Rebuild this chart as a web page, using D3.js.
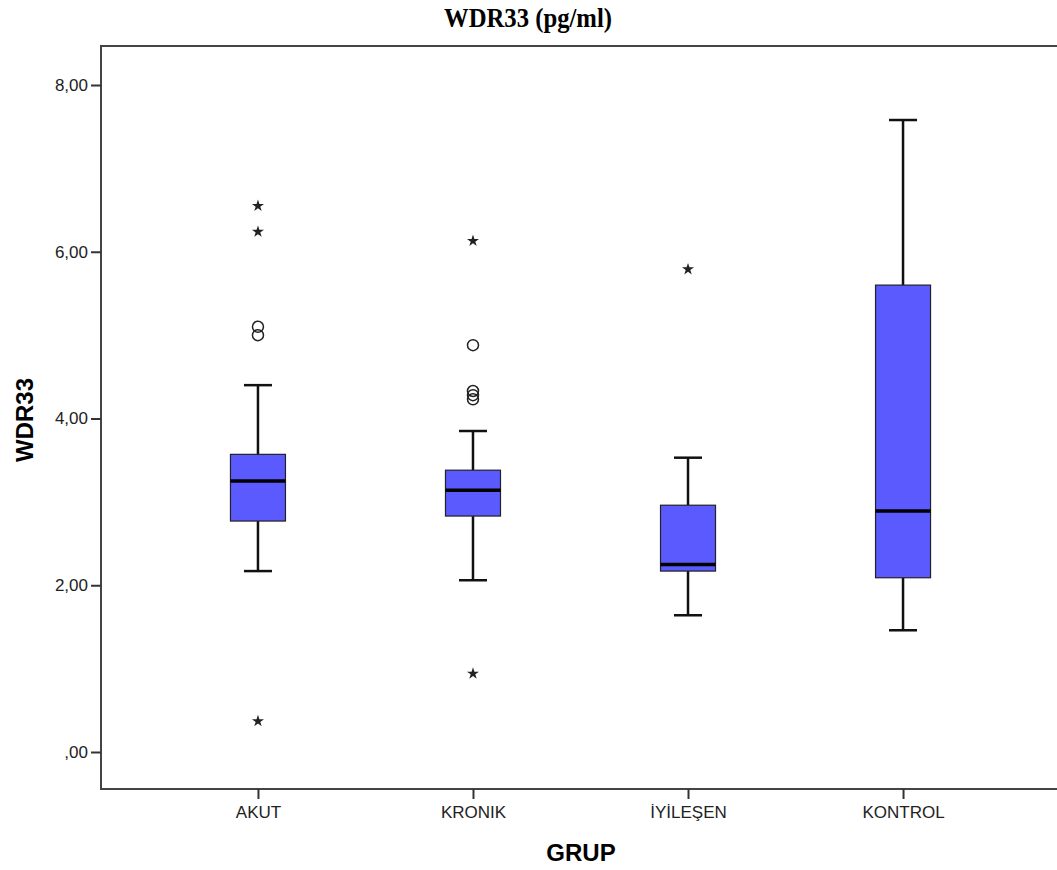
<!DOCTYPE html>
<html lang='en'>
<head>
<meta charset='utf-8'>
<title>WDR33</title>
<script src='https://cdn.jsdelivr.net/npm/d3@7'></script>
<style>
  body { margin: 0; background: #fff; }
</style>
</head>
<body>
<script>
// data
var groups = ['AKUT', 'KRONIK', 'İYİLEŞEN', 'KONTROL'];
var whiskerLow  = [2.17, 2.06, 1.64, 1.46];
var q1          = [2.77, 2.83, 2.17, 2.09];
var median      = [3.25, 3.14, 2.25, 2.89];
var q3          = [3.57, 3.38, 2.96, 5.60];
var whiskerHigh = [4.40, 3.85, 3.53, 7.58];
var outlierGroup = ['AKUT', 'AKUT', 'KRONIK', 'KRONIK', 'KRONIK', 'KRONIK'];
var outlierValue = [5.10, 5.00, 4.88, 4.33, 4.28, 4.23];
var extremeGroup = ['AKUT', 'AKUT', 'AKUT', 'KRONIK', 'KRONIK', 'İYİLEŞEN'];
var extremeValue = [6.55, 6.24, 0.37, 6.13, 0.94, 5.79];
var yTicks = [0, 2, 4, 6, 8];

var W = 1057, H = 870;
var plotLeft = 101, plotRight = 1060, plotTop = 46, plotBottom = 789;

var svg = d3.select('body').append('svg').attr('width', W).attr('height', H);

var x = d3.scalePoint().domain(groups).range([plotLeft, plotRight]).padding(0.73);
var y = d3.scaleLinear().domain([0, 8]).range([752, 85]);

var fmt = function(v) {
  var s = v.toFixed(2).replace('.', ',');
  return s.charAt(0) === '0' ? s.slice(1) : s;
};

// frame
svg.append('rect')
  .attr('x', plotLeft).attr('y', plotTop)
  .attr('width', plotRight - plotLeft).attr('height', plotBottom - plotTop)
  .attr('fill', 'none').attr('stroke', '#444').attr('stroke-width', 2);

// axes
var yAxis = svg.append('g')
  .attr('transform', 'translate(' + plotLeft + ',0)')
  .call(d3.axisLeft(y).tickValues(yTicks).tickFormat(fmt).tickSize(10).tickPadding(3));
var xAxis = svg.append('g')
  .attr('transform', 'translate(0,' + plotBottom + ')')
  .call(d3.axisBottom(x).tickSize(10).tickPadding(7));
[yAxis, xAxis].forEach(function(a) {
  a.select('.domain').remove();
  a.selectAll('line').attr('stroke', '#333').attr('stroke-width', 2);
  a.selectAll('text').attr('font-family', 'Liberation Sans, Arial, sans-serif')
    .attr('font-size', 17).attr('fill', '#222');
});

var boxW = 55, capW = 28;
var rows = groups.map(function(g, i) {
  return { g: g, lo: whiskerLow[i], q1: q1[i], med: median[i], q3: q3[i], hi: whiskerHigh[i] };
});

var b = svg.append('g').selectAll('g').data(rows).enter().append('g');

// whiskers
b.append('line')
  .attr('x1', d => x(d.g)).attr('x2', d => x(d.g))
  .attr('y1', d => y(d.hi)).attr('y2', d => y(d.q3))
  .attr('stroke', '#111').attr('stroke-width', 2.5);
b.append('line')
  .attr('x1', d => x(d.g)).attr('x2', d => x(d.g))
  .attr('y1', d => y(d.q1)).attr('y2', d => y(d.lo))
  .attr('stroke', '#111').attr('stroke-width', 2.5);
b.append('line')
  .attr('x1', d => x(d.g) - capW / 2).attr('x2', d => x(d.g) + capW / 2)
  .attr('y1', d => y(d.hi)).attr('y2', d => y(d.hi))
  .attr('stroke', '#111').attr('stroke-width', 2.5);
b.append('line')
  .attr('x1', d => x(d.g) - capW / 2).attr('x2', d => x(d.g) + capW / 2)
  .attr('y1', d => y(d.lo)).attr('y2', d => y(d.lo))
  .attr('stroke', '#111').attr('stroke-width', 2.5);

// boxes
b.append('rect')
  .attr('x', d => x(d.g) - boxW / 2).attr('width', boxW)
  .attr('y', d => y(d.q3)).attr('height', d => y(d.q1) - y(d.q3))
  .attr('fill', '#5a5aff').attr('stroke', '#222').attr('stroke-width', 1.2);
b.append('line')
  .attr('x1', d => x(d.g) - boxW / 2).attr('x2', d => x(d.g) + boxW / 2)
  .attr('y1', d => y(d.med)).attr('y2', d => y(d.med))
  .attr('stroke', '#000').attr('stroke-width', 3.5);

// outliers (circles)
svg.append('g').selectAll('circle').data(outlierValue).enter().append('circle')
  .attr('cx', (d, i) => x(outlierGroup[i])).attr('cy', d => y(d))
  .attr('r', 5.5).attr('fill', 'none').attr('stroke', '#222').attr('stroke-width', 1.5);

// extremes (stars)
var star = d3.symbol().type(d3.symbolStar).size(45);
svg.append('g').selectAll('path').data(extremeValue).enter().append('path')
  .attr('d', star)
  .attr('transform', (d, i) => 'translate(' + x(extremeGroup[i]) + ',' + y(d) + ')')
  .attr('fill', '#222');

// titles
svg.append('text').attr('x', 528).attr('y', 27).attr('text-anchor', 'middle')
  .attr('font-family', 'Liberation Serif, Times New Roman, serif')
  .attr('font-weight', 'bold').attr('font-size', 26)
  .attr('transform', 'translate(528,27) scale(0.95,1.05) translate(-528,-27)')
  .text('WDR33 (pg/ml)');
svg.append('text').attr('transform', 'translate(33,420)rotate(-90)').attr('text-anchor', 'middle')
  .attr('font-family', 'Liberation Sans, Arial, sans-serif')
  .attr('font-weight', 'bold').attr('font-size', 24)
  .text('WDR33');
svg.append('text').attr('x', 581).attr('y', 861).attr('text-anchor', 'middle')
  .attr('font-family', 'Liberation Sans, Arial, sans-serif')
  .attr('font-weight', 'bold').attr('font-size', 24)
  .text('GRUP');
</script>
</body>
</html>
